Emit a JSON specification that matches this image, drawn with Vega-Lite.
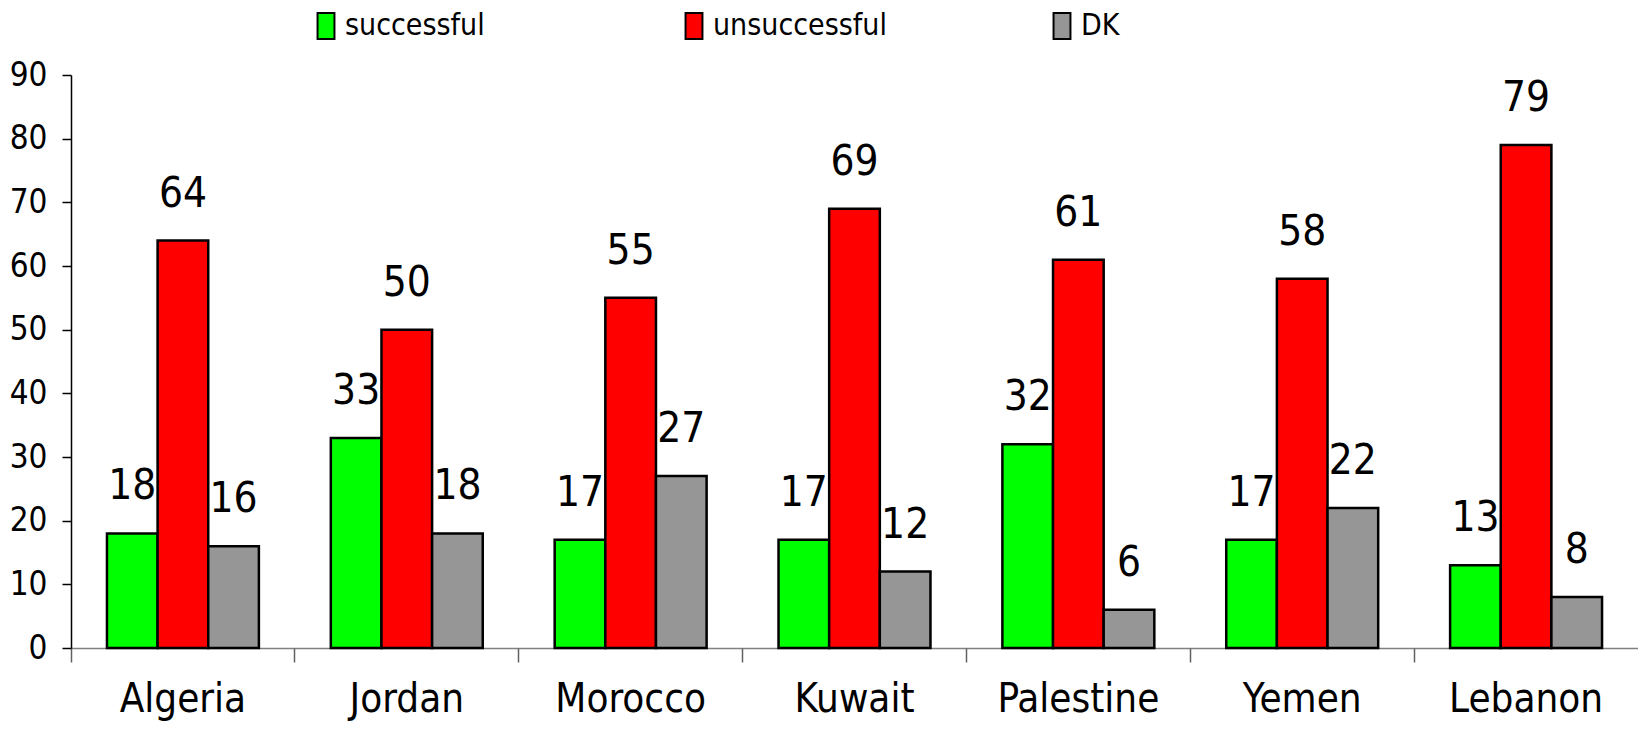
{
  "$schema": "https://vega.github.io/schema/vega-lite/v6.json",
  "width": 1567,
  "height": 573,
  "autosize": "none",
  "padding": {"left": 71, "top": 75, "right": 0, "bottom": 85},
  "background": "white",
  "config": {
    "font": "Liberation Sans Narrow, Arial Narrow, DejaVu Sans Condensed, Liberation Sans",
    "view": {"stroke": null}
  },
  "data": {
    "values": [
      {"country": "Algeria", "answer": "successful", "value": 18},
      {"country": "Algeria", "answer": "unsuccessful", "value": 64},
      {"country": "Algeria", "answer": "DK", "value": 16},
      {"country": "Jordan", "answer": "successful", "value": 33},
      {"country": "Jordan", "answer": "unsuccessful", "value": 50},
      {"country": "Jordan", "answer": "DK", "value": 18},
      {"country": "Morocco", "answer": "successful", "value": 17},
      {"country": "Morocco", "answer": "unsuccessful", "value": 55},
      {"country": "Morocco", "answer": "DK", "value": 27},
      {"country": "Kuwait", "answer": "successful", "value": 17},
      {"country": "Kuwait", "answer": "unsuccessful", "value": 69},
      {"country": "Kuwait", "answer": "DK", "value": 12},
      {"country": "Palestine", "answer": "successful", "value": 32},
      {"country": "Palestine", "answer": "unsuccessful", "value": 61},
      {"country": "Palestine", "answer": "DK", "value": 6},
      {"country": "Yemen", "answer": "successful", "value": 17},
      {"country": "Yemen", "answer": "unsuccessful", "value": 58},
      {"country": "Yemen", "answer": "DK", "value": 22},
      {"country": "Lebanon", "answer": "successful", "value": 13},
      {"country": "Lebanon", "answer": "unsuccessful", "value": 79},
      {"country": "Lebanon", "answer": "DK", "value": 8}
    ]
  },
  "encoding": {
    "x": {
      "field": "country",
      "type": "nominal",
      "sort": ["Algeria", "Jordan", "Morocco", "Kuwait", "Palestine", "Yemen", "Lebanon"],
      "scale": {"paddingInner": 0, "paddingOuter": 0},
      "axis": null
    },
    "xOffset": {
      "field": "answer",
      "type": "nominal",
      "sort": ["successful", "unsuccessful", "DK"],
      "scale": {"paddingInner": 0, "paddingOuter": 0.71}
    },
    "y": {
      "field": "value",
      "type": "quantitative",
      "scale": {"domain": [0, 90], "nice": false, "zero": true}
    }
  },
  "layer": [
    {
      "mark": {"type": "bar", "stroke": "black", "strokeWidth": 2.5},
      "encoding": {
        "x": {
          "field": "country",
          "type": "nominal",
          "sort": ["Algeria", "Jordan", "Morocco", "Kuwait", "Palestine", "Yemen", "Lebanon"],
          "axis": {
            "orient": "bottom",
            "title": null,
            "labelAngle": 0,
            "labelFontSize": 40,
            "labelColor": "black",
            "labelPadding": 31,
            "ticks": false,
            "domain": true,
            "domainColor": "#808080",
            "domainWidth": 1.5,
            "grid": false
          }
        },
        "y": {
          "field": "value",
          "type": "quantitative",
          "axis": {
            "title": null,
            "values": [0, 10, 20, 30, 40, 50, 60, 70, 80, 90],
            "labelFontSize": 33,
            "labelColor": "black",
            "labelPadding": 15,
            "tickSize": 9,
            "tickColor": "black",
            "tickWidth": 1.5,
            "domainColor": "black",
            "domainWidth": 1.5,
            "grid": false
          }
        },
        "color": {
          "field": "answer",
          "type": "nominal",
          "sort": ["successful", "unsuccessful", "DK"],
          "scale": {"domain": ["successful", "unsuccessful", "DK"], "range": ["#00FF00", "#FF0000", "#969696"]},
          "legend": {
            "title": null,
            "orient": "none",
            "direction": "horizontal",
            "legendX": 240,
            "legendY": -64,
            "padding": 0,
            "gridAlign": "all",
            "columnPadding": 160,
            "labelFontSize": 30,
            "labelColor": "black",
            "labelOffset": 4,
            "labelLimit": 400,
            "symbolType": "M-0.65,-1H0.65V1H-0.65Z",
            "symbolSize": 676,
            "symbolStrokeColor": "black",
            "symbolStrokeWidth": 2,
            "symbolOpacity": 1
          }
        }
      }
    },
    {
      "mark": {"type": "text", "fontSize": 42, "baseline": "alphabetic", "dy": -34, "color": "black"},
      "encoding": {
        "text": {"field": "value", "type": "quantitative"}
      }
    },
    {
      "mark": {"type": "rule", "opacity": 0},
      "encoding": {
        "x": {
          "field": "country",
          "type": "nominal",
          "sort": ["Algeria", "Jordan", "Morocco", "Kuwait", "Palestine", "Yemen", "Lebanon"],
          "axis": {
            "orient": "bottom",
            "title": null,
            "labels": false,
            "domain": false,
            "ticks": true,
            "bandPosition": 0,
            "tickSize": 14,
            "tickColor": "#606060",
            "tickWidth": 1.5,
            "grid": false
          }
        },
        "xOffset": null,
        "y": {"datum": 0}
      }
    }
  ],
  "resolve": {"axis": {"x": "independent"}}
}
